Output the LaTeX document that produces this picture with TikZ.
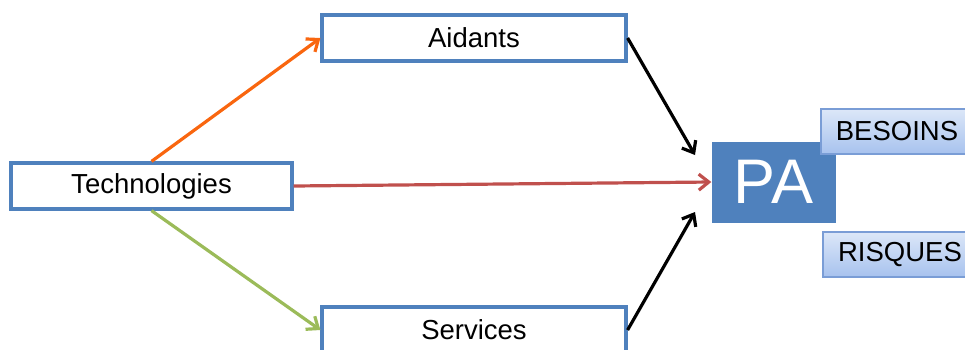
\documentclass[tikz,border=0pt]{standalone}
\usepackage{fontspec}
\setmainfont{Liberation Sans}
\usetikzlibrary{arrows.meta}
\definecolor{boxblue}{HTML}{4F81BD}
\definecolor{orangec}{HTML}{F9660F}
\definecolor{greenc}{HTML}{9BBB59}
\definecolor{redc}{HTML}{C0504D}
\definecolor{tagtop}{HTML}{DCE7F8}
\definecolor{tagbot}{HTML}{A7C2EE}
\definecolor{tagline}{HTML}{7A9DD6}
\begin{document}
\begin{tikzpicture}[x=1pt,y=-1pt,
  wbox/.style={draw=boxblue,line width=3.2pt,fill=white,minimum height=46pt,inner sep=0pt,font=\fontsize{27.5}{33}\selectfont},
  tagbox/.style={draw=tagline,line width=1.4pt,top color=tagtop,bottom color=tagbot,minimum height=45pt,inner sep=0pt,font=\fontsize{27.5}{33}\selectfont},
  conn/.style={line width=3.2pt,-{Straight Barb[length=10pt,width=16pt,line width=3.2pt]}}]
\clip (0,0) rectangle (965,349);
\node[wbox,minimum width=304pt] (aid) at (474,38) {Aidants};
\node[wbox,minimum width=281pt] (tech) at (151.5,186) {\raisebox{-2pt}{Technologies}};
\node[wbox,minimum width=304pt] (serv) at (474,330) {Services};
\node[fill=boxblue,minimum width=124pt,minimum height=81pt,inner sep=0pt,text=white,font=\fontsize{63}{70}\selectfont] (pa) at (773.5,182) {PA};
\node[tagbox,minimum width=152pt] (bes) at (897,131.5) {BESOINS};
\node[tagbox,minimum width=154pt] (ris) at (900,254.5) {RISQUES};
\coordinate (pin1) at (695,155);
\coordinate (pin2) at (695,212);
\draw[conn,draw=orangec] (tech.north) -- (aid.west);
\draw[conn,draw=greenc] (tech.south) -- (serv.west);
\draw[conn,draw=redc] (tech.east) -- (pa.west);
\draw[conn,draw=black] (aid.east) -- (pin1);
\draw[conn,draw=black] (serv.east) -- (pin2);
\end{tikzpicture}
\end{document}
